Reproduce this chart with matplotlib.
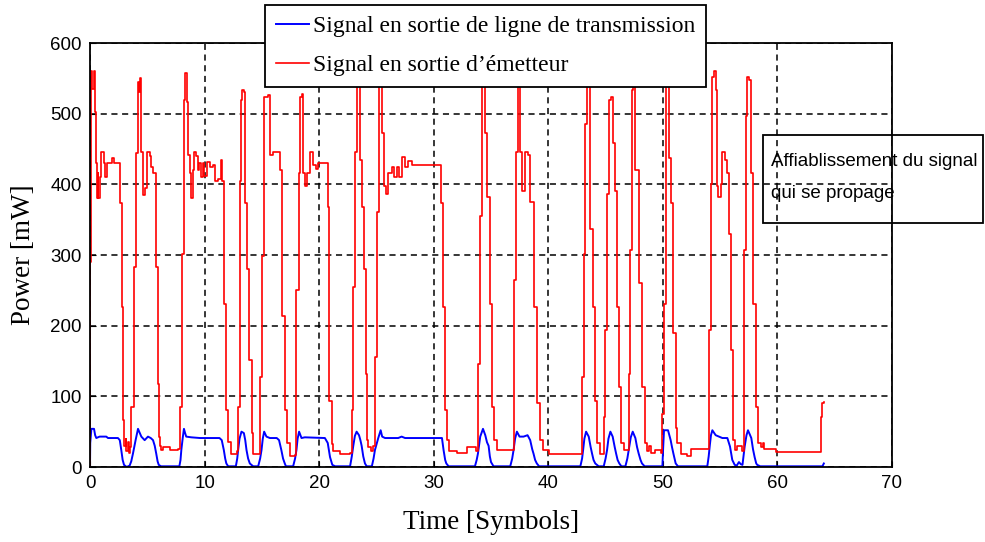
import matplotlib
matplotlib.use("Agg")
import matplotlib.pyplot as plt
from matplotlib.patches import Rectangle

# Emitter output power (mW) vs time (symbols), breakpoints along the trace
red_t = [0.00, 0.02, 0.06, 0.20, 0.35, 0.41, 0.50, 0.58, 0.66, 0.74, 0.84, 0.93, 1.10, 1.22, 1.30, 1.45,
         1.80, 1.95, 2.10, 2.60, 2.65, 2.78, 2.92, 3.00, 3.10, 3.18, 3.28, 3.38, 3.46, 3.60, 3.84, 4.04,
         4.20, 4.30, 4.40, 4.45, 4.62, 4.77, 5.00, 5.20, 5.35, 5.50, 5.75, 5.80, 5.93, 6.02, 6.10, 6.20,
         6.40, 7.00, 7.70, 7.82, 8.02, 8.20, 8.30, 8.43, 8.55, 8.70, 8.84, 8.95, 9.07, 9.27, 9.40, 9.55,
         9.70, 9.85, 9.95, 10.17, 10.45, 10.75, 10.90, 11.20, 11.40, 11.55, 11.68, 11.86, 12.06, 12.35,
         12.80, 12.93, 13.08, 13.22, 13.30, 13.45, 13.50, 13.72, 13.90, 14.10, 14.24, 14.82, 14.88, 15.05,
         15.20, 15.55, 15.70, 15.98, 16.40, 16.57, 16.77, 17.00, 17.20, 17.44, 17.88, 18.02, 18.20, 18.31,
         18.50, 18.60, 18.75, 18.90, 19.18, 19.47, 19.76, 19.93, 20.66, 20.75, 20.86, 21.10, 21.24, 21.80,
         22.70, 22.84, 22.98, 23.13, 23.27, 23.45, 23.57, 23.71, 23.92, 24.06, 24.15, 24.30, 24.50, 24.73,
         24.87, 25.05, 25.25, 25.40, 25.50, 25.69, 25.80, 26.04, 26.33, 26.56, 26.76, 26.97, 27.20, 27.50,
         27.78, 28.07, 30.57, 30.63, 30.81, 30.98, 31.15, 31.30, 32.00, 32.90, 33.70, 33.83, 34.00, 34.20,
         34.35, 34.44, 34.64, 34.93, 35.10, 35.22, 35.50, 36.82, 36.97, 37.14, 37.32, 37.45, 37.55, 37.72,
         37.99, 38.19, 38.42, 38.71, 39.00, 39.24, 39.50, 40.05, 42.80, 42.90, 43.10, 43.24, 43.40, 43.55,
         43.68, 43.88, 44.05, 44.26, 44.55, 44.84, 44.98, 45.16, 45.33, 45.45, 45.62, 45.80, 46.00, 46.15,
         46.38, 46.60, 46.90, 47.02, 47.16, 47.30, 47.40, 47.50, 47.60, 47.89, 48.18, 48.41, 48.60, 48.80,
         49.00, 49.30, 49.80, 49.96, 50.10, 50.25, 50.40, 50.54, 50.74, 50.92, 51.12, 51.27, 51.56, 52.14,
         52.43, 53.88, 54.03, 54.17, 54.32, 54.46, 54.61, 54.70, 54.84, 55.05, 55.19, 55.40, 55.63, 55.77,
         55.98, 56.15, 56.27, 56.50, 56.93, 57.08, 57.25, 57.37, 57.55, 57.72, 57.90, 58.10, 58.30, 58.53,
         58.70, 58.85, 59.70, 59.86, 63.64, 63.79, 63.93, 64.05]
red_p = [0, 290, 560, 535, 560, 503, 430, 380, 416, 380, 410, 446, 446, 430, 410, 430,
         430, 437, 430, 428, 373, 227, 66, 30, 40, 22, 35, 20, 28, 85, 283, 444,
         545, 530, 550, 446, 385, 395, 446, 440, 425, 416, 410, 283, 118, 43, 30, 24,
         28, 24, 26, 85, 302, 520, 557, 517, 441, 416, 380, 420, 446, 440, 420, 430,
         410, 430, 412, 432, 425, 428, 405, 408, 435, 405, 230, 80, 35, 19,
         22, 85, 405, 520, 533, 530, 373, 280, 151, 48, 19, 20, 127, 298,
         524, 526, 441, 446, 446, 420, 213, 80, 34, 15, 17, 250, 416, 524,
         528, 416, 397, 416, 446, 427, 422, 430, 430, 368, 93, 32, 22, 18,
         20, 80, 255, 446, 550, 545, 435, 368, 280, 132, 38, 29, 22, 30,
         156, 361, 555, 540, 472, 397, 387, 416, 425, 411, 425, 411, 438, 425,
         433, 428, 428, 373, 227, 80, 38, 22, 20, 28, 22, 146, 355, 550,
         545, 472, 382, 231, 85, 38, 24, 24, 265, 446, 550, 540, 446, 390,
         446, 441, 375, 227, 90, 38, 24, 19, 19, 127, 302, 486, 548, 540,
         337, 227, 93, 34, 19, 71, 194, 387, 520, 524, 458, 390, 227, 113,
         34, 24, 24, 132, 307, 533, 550, 545, 420, 260, 113, 34, 22, 30,
         20, 24, 20, 75, 230, 545, 540, 437, 373, 189, 55, 34, 19, 15,
         26, 26, 194, 401, 552, 561, 533, 397, 382, 401, 446, 435, 416, 330,
         165, 38, 24, 30, 22, 307, 496, 552, 548, 416, 230, 85, 34, 28,
         34, 26, 26, 21, 21, 71, 90, 92]

# Transmission line output power (mW) vs time (symbols)
blue_t = [0.00, 0.02, 0.12, 0.35, 0.45, 0.55, 0.84, 1.42, 1.57, 2.44, 2.60, 2.73, 2.85, 2.97, 3.20, 3.46,
          3.60, 3.75, 3.98, 4.19, 4.35, 4.48, 4.77, 5.06, 5.30, 5.50, 5.65, 5.78, 5.90, 6.00, 6.20, 7.80,
          7.90, 7.97, 8.10, 8.20, 8.30, 8.40, 8.84, 9.60, 11.30, 11.50, 11.68, 11.80, 11.90, 12.06, 12.73,
          12.85, 12.93, 13.05, 13.22, 13.43, 13.55, 13.66, 13.80, 13.95, 14.24, 14.68, 14.85, 14.97, 15.08,
          15.20, 15.40, 15.70, 16.30, 16.50, 16.70, 16.85, 17.00, 17.10, 17.73, 17.90, 18.02, 18.12, 18.25,
          18.46, 18.75, 20.50, 20.75, 20.95, 21.15, 21.40, 22.70, 22.85, 22.98, 23.12, 23.27, 23.48, 23.60,
          23.71, 23.85, 24.00, 24.15, 24.60, 24.75, 24.87, 25.16, 25.37, 25.50, 25.75, 26.90, 27.20, 27.50,
          30.72, 30.86, 31.00, 31.10, 31.30, 33.60, 33.75, 33.86, 34.06, 34.30, 34.50, 34.65, 34.79, 34.90,
          35.00, 35.22, 36.68, 36.85, 36.97, 37.10, 37.26, 37.49, 37.84, 38.19, 38.42, 38.60, 38.71, 38.85,
          39.00, 39.20, 42.80, 42.95, 43.04, 43.15, 43.30, 43.53, 43.70, 43.82, 43.95, 44.10, 44.40, 44.84,
          45.00, 45.13, 45.25, 45.42, 45.62, 45.80, 45.92, 46.05, 46.20, 46.38, 46.73, 46.90, 47.02, 47.20,
          47.37, 47.60, 47.75, 47.89, 48.05, 48.18, 48.41, 49.96, 50.02, 50.10, 50.45, 50.68, 50.80, 50.92,
          51.05, 51.12, 51.32, 53.88, 54.00, 54.10, 54.20, 54.32, 54.61, 54.90, 55.19, 55.63, 55.86, 56.06,
          56.27, 56.45, 56.64, 56.80, 56.95, 57.14, 57.30, 57.43, 57.72, 57.87, 58.01, 58.15, 58.24, 58.50,
          63.93, 64.05]
blue_p = [0, 34, 54, 54, 45, 41, 43, 43, 41, 41, 38, 24, 10, 3, 0, 2,
          8, 19, 38, 54, 48, 43, 38, 43, 41, 38, 30, 19, 8, 3, 1, 1,
          10, 24, 42, 54, 48, 43, 42, 41, 41, 38, 24, 12, 5, 1, 1,
          12, 24, 40, 50, 48, 38, 24, 12, 5, 1, 1, 12, 24, 40,
          50, 43, 41, 41, 38, 24, 12, 5, 1, 1, 12, 24, 40, 50,
          41, 42, 41, 34, 14, 3, 1, 1, 15, 30, 44, 50, 45, 38,
          30, 15, 5, 1, 1, 12, 24, 41, 52, 43, 41, 41, 43, 41,
          41, 24, 10, 5, 1, 1, 10, 19, 43, 54, 45, 35, 30, 15,
          7, 1, 1, 12, 24, 40, 50, 43, 43, 45, 38, 25, 19, 10,
          5, 1, 1, 12, 24, 40, 50, 43, 28, 19, 10, 5, 1, 1,
          12, 24, 40, 50, 43, 28, 19, 10, 5, 1, 1, 12, 24, 42,
          50, 41, 28, 19, 10, 5, 1, 1, 25, 52, 52, 38, 28, 19,
          10, 5, 1, 1, 15, 31, 45, 52, 45, 43, 41, 41, 29, 10,
          3, 2, 7, 4, 3, 29, 45, 52, 41, 25, 14, 5, 3, 1,
          1, 5]

xticks = [0, 10, 20, 30, 40, 50, 60, 70]
yticks = [0, 100, 200, 300, 400, 500, 600]

fig = plt.figure(figsize=(9.85, 5.42), dpi=100)
ax = fig.add_axes([90 / 985, 1 - 467 / 542, 802 / 985, 424 / 542])

ax.plot(blue_t, blue_p, color="#0000ff", lw=1.4, label="Signal en sortie de ligne de transmission")
ax.plot(red_t, red_p, color="#ff0000", lw=1.2, drawstyle="steps-post", label="Signal en sortie d\u2019\u00e9metteur")

ax.set_xlim(0, 70)
ax.set_ylim(0, 600)
ax.set_xticks(xticks)
ax.set_yticks(yticks)
ax.tick_params(direction="in", length=4, labelsize=13.5, colors="black", pad=6)
for lab in ax.get_xticklabels() + ax.get_yticklabels():
    lab.set_family("Liberation Sans")
ax.grid(True, color="black", linestyle=(0, (4, 3)), linewidth=1.1)
for s in ax.spines.values():
    s.set_linewidth(1.3)

ax.set_xlabel("Time [Symbols]", family="Liberation Serif", fontsize=19.5, labelpad=13)
ax.set_ylabel("Power [mW]", family="Liberation Serif", fontsize=19.5, labelpad=10)

leg = ax.legend(loc="upper left", bbox_to_anchor=(265 / 985, 1 - 5 / 542), bbox_transform=fig.transFigure,
                prop={"family": "Liberation Serif", "size": 17}, fancybox=False, framealpha=1,
                edgecolor="black", handlelength=1.4, handletextpad=0.2, borderpad=0.45, labelspacing=0.75,
                borderaxespad=0)
leg.get_frame().set_linewidth(1.3)

# text box on the right, spilling past the axes
fig.patches.append(Rectangle((763 / 985, 1 - 223 / 542), 220 / 985, 88 / 542, transform=fig.transFigure,
                             fill=False, edgecolor="black", linewidth=1.3))
fig.text(771 / 985, 1 - 161 / 542, "Affiablissement du signal", family="Liberation Sans", fontsize=13.5,
         va="center", ha="left")
fig.text(771 / 985, 1 - 194 / 542, "qui se propage", family="Liberation Sans", fontsize=13.5,
         va="center", ha="left")

fig.savefig("out.png", dpi=100)
